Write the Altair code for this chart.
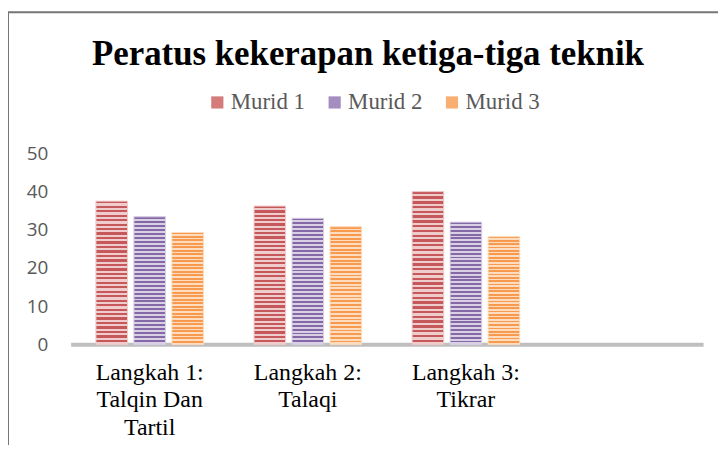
import altair as alt
import pandas as pd

# ---- data ----
categories = ["Langkah 1:|Talqin Dan|Tartil", "Langkah 2:|Talaqi", "Langkah 3:|Tikrar"]
empty_slot = " "
series = ["Murid 1", "Murid 2", "Murid 3"]
murid1 = [37.5, 36.2, 40.0]
murid2 = [33.4, 33.0, 32.0]
murid3 = [29.3, 30.8, 28.2]
y_ticks = [0, 10, 20, 30, 40, 50]
title_text = "Peratus kekerapan ketiga-tiga teknik"

rows = []
for s, vals in zip(series, [murid1, murid2, murid3]):
    for c, v in zip(categories, vals):
        rows.append({"Langkah": c, "Murid": s, "Nilai": v})
df = pd.DataFrame(rows)

# ---- styles ----
dark = ["#C4585A", "#8569A6", "#F79A4E"]
light = ["#F0CDCC", "#DAD0E6", "#FDDCBF"]
legend_fill = ["#D47C7A", "#A38EBF", "#F9AF72"]


def stripes(d, l, n=32, frac=0.5):
    stops = []
    for i in range(n):
        a = round(i / n, 5)
        m = round((i + frac) / n, 5)
        b = round((i + 1) / n, 5)
        stops += [
            alt.GradientStop(offset=a, color=d),
            alt.GradientStop(offset=m, color=d),
            alt.GradientStop(offset=m, color=l),
            alt.GradientStop(offset=b, color=l),
        ]
    return alt.LinearGradient(gradient="linear", stops=stops, x1=0, x2=0, y1=0, y2=1)


x_enc = alt.X(
    "Langkah:N",
    scale=alt.Scale(domain=categories + [empty_slot], paddingInner=0.32, paddingOuter=0.16),
    axis=alt.Axis(
        title=None,
        labelExpr="split(datum.label, '|')",
        labelAngle=0,
        ticks=False,
        tickSize=0,
        labelPadding=16,
        domainColor="#BFBFBF",
        domainWidth=4,
        labelFont="Liberation Serif",
        labelFontSize=24,
        labelColor="#000000",
        labelLineHeight=28,
        labelOverlap=False,
        labelLimit=0,
        grid=False,
    ),
)
y_enc = alt.Y(
    "Nilai:Q",
    scale=alt.Scale(domain=[0, 50], nice=False),
    axis=alt.Axis(
        title=None,
        values=y_ticks,
        grid=False,
        domain=False,
        ticks=False,
        tickSize=0,
        labelPadding=23,
        labelFont="Open Sans",
        labelFontSize=19,
        labelColor="#595959",
    ),
)
xo_enc = alt.XOffset("Murid:N", scale=alt.Scale(domain=series, paddingInner=0.17, paddingOuter=0))

base = alt.Chart(df).mark_bar().encode(
    x=x_enc,
    y=y_enc,
    xOffset=xo_enc,
    color=alt.Color(
        "Murid:N",
        scale=alt.Scale(domain=series, range=legend_fill),
        legend=alt.Legend(
            title=None,
            orient="none",
            legendX=136,
            legendY=-63,
            direction="horizontal",
            symbolType="square",
            symbolSize=150,
            symbolStrokeWidth=0,
            labelFont="Liberation Serif",
            labelFontSize=23,
            labelColor="#595959",
            labelOffset=2,
            columnPadding=18,
            padding=0,
        ),
    ),
)

overlays = [
    alt.Chart(df)
    .transform_filter(alt.datum.Murid == s)
    .mark_bar(fill=stripes(dark[i], light[i]), stroke=light[i], strokeWidth=1)
    .encode(x=x_enc, y=y_enc, xOffset=xo_enc)
    for i, s in enumerate(series)
]

frame = alt.Chart(pd.DataFrame({"f": [0]})).mark_rect(
    filled=False, stroke="#767676", strokeWidth=2
).encode(
    x=alt.value(-63), x2=alt.value(800), y=alt.value(-142), y2=alt.value(700)
)

title = alt.Chart(pd.DataFrame({"t": [title_text]})).mark_text(
    font="Liberation Serif",
    fontSize=35,
    fontWeight="bold",
    color="#000000",
    align="center",
    baseline="alphabetic",
).encode(text="t:N", x=alt.value(299), y=alt.value(-89))

chart = (
    alt.layer(frame, base, *overlays, title)
    .properties(
        width=636,
        height=192,
        padding={"left": 63, "top": 145, "right": 15, "bottom": 100},
        autosize=alt.AutoSizeParams(type="none"),
    )
    .configure_view(stroke=None)
)

chart.save("out.html", embed_options={"renderer": "svg", "actions": False})
